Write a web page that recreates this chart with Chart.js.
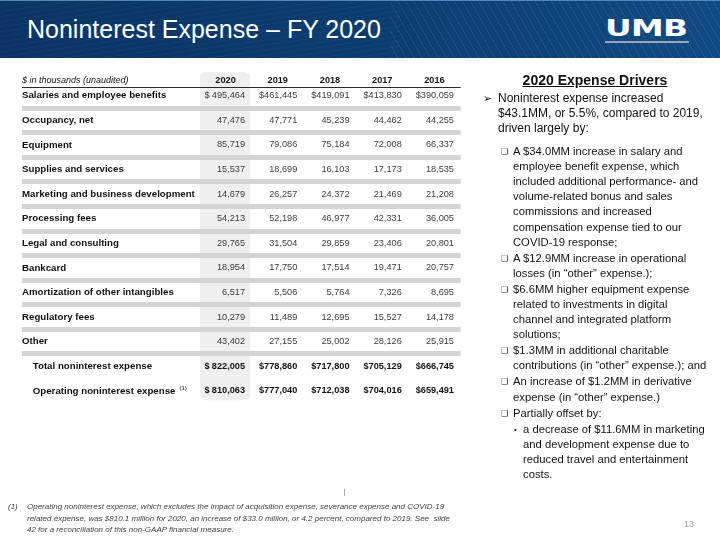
<!DOCTYPE html>
<html><head><meta charset="utf-8">
<script src="https://cdn.jsdelivr.net/npm/chart.js@4.4.1/dist/chart.umd.min.js"></script>
<style>
html,body{margin:0;padding:0;background:#fff;}
body{width:720px;height:540px;position:relative;overflow:hidden;font-family:"Liberation Sans",Arial,sans-serif;color:#111;}
#hdr{position:absolute;left:0;top:0;width:720px;height:58px;background:linear-gradient(90deg,#0a3463 0%,#0c3c6f 50%,#104a84 100%);border-top:1px solid #4f86bb;box-sizing:border-box;overflow:hidden}
#stripes{position:absolute;left:390px;top:0;width:330px;height:58px;background:repeating-linear-gradient(60deg,rgba(255,255,255,0.08) 0 1px,transparent 1px 7px);}
#waves{position:absolute;left:0;top:0;width:400px;height:58px;background:repeating-linear-gradient(172deg,rgba(120,200,220,0.05) 0 1px,transparent 1px 5px);}
#title{position:absolute;left:27px;top:17px;font-size:25px;line-height:25px;color:#fff;white-space:nowrap;}
#logo{position:absolute;left:605px;top:17px;font-family:"DejaVu Sans",sans-serif;font-weight:bold;font-size:23px;line-height:23px;color:#fff;transform:scaleX(1.43);transform-origin:0 0;letter-spacing:-0.5px;}
#logobar{position:absolute;left:605px;top:41px;width:84px;height:2px;background:#9aa5b1;}
#chartbox{position:absolute;left:0;top:0;width:720px;height:540px;}
#unit{position:absolute;left:22px;top:75px;font-size:9px;line-height:11px;font-style:italic;color:#111;white-space:nowrap;}
#rp{position:absolute;left:498px;top:91px;width:222px;font-size:12px;line-height:15.1px;color:#111;}
#rphead{position:absolute;left:480px;top:72px;width:230px;text-align:center;font-weight:bold;font-size:14px;line-height:16px;text-decoration:underline;color:#111;}
.p{position:relative;white-space:nowrap;}
.main .b{position:absolute;left:-15px;top:0;font-family:"DejaVu Sans",sans-serif;font-size:11px;}
.sub{margin-left:15px;font-size:11.25px;margin-top:1px;}
.sub .b{position:absolute;left:-12px;top:0;font-family:"DejaVu Sans",sans-serif;font-size:8px;}
.subsub{margin-left:25px;font-size:11.25px;margin-top:1px;}
.subsub .b{position:absolute;left:-9px;top:0;font-size:8px;}
#fn{position:absolute;left:27px;top:501px;font-size:8px;line-height:11.5px;font-style:italic;color:#3c3c3c;white-space:nowrap;}
#fnn{position:absolute;left:8px;top:501px;font-size:8px;line-height:11.5px;font-style:italic;color:#3c3c3c;}
#pg{position:absolute;left:684px;top:519px;font-size:9px;line-height:11px;color:#9a9a9a;}
#vl{position:absolute;left:344px;top:489px;width:1px;height:7px;background:#aaa;}
</style>
</head>
<body>
<div id="hdr"><div id="waves"></div><div id="stripes"></div></div>
<div id="title">Noninterest Expense – FY 2020</div>
<div id="logo">UMB</div>
<div id="logobar"></div>
<div id="chartbox"><canvas id="c" width="720" height="540"></canvas></div>
<div id="unit">$ in thousands (unaudited)</div>
<div id="rphead">2020 Expense Drivers</div>
<div id="rp">
  <div class="p main"><span class="b">➢</span>Noninterest expense increased<br>$43.1MM, or 5.5%, compared to 2019,<br>driven largely by:</div>
  <div class="p sub" style="margin-top:7.8px"><span class="b">❑</span>A $34.0MM increase in salary and<br>employee benefit expense, which<br>included additional performance- and<br>volume-related bonus and sales<br>commissions and increased<br>compensation expense tied to our<br>COVID-19 response;</div>
  <div class="p sub"><span class="b">❑</span>A $12.9MM increase in operational<br>losses (in “other” expense.);</div>
  <div class="p sub"><span class="b">❑</span>$6.6MM higher equipment expense<br>related to investments in digital<br>channel and integrated platform<br>solutions;</div>
  <div class="p sub"><span class="b">❑</span>$1.3MM in additional charitable<br>contributions (in “other” expense.); and</div>
  <div class="p sub"><span class="b">❑</span>An increase of $1.2MM in derivative<br>expense (in “other” expense.)</div>
  <div class="p sub"><span class="b">❑</span>Partially offset by:</div>
  <div class="p subsub"><span class="b">•</span>a decrease of $11.6MM in marketing<br>and development expense due to<br>reduced travel and entertainment<br>costs.</div>
</div>
<div id="fnn">(1)</div>
<div id="fn">Operating noninterest expense, which excludes the impact of acquisition expense, severance expense and COVID-19<br>related expense, was $810.1 million for 2020, an increase of $33.0 million, or 4.2 percent, compared to 2019. See &nbsp;slide<br>42 for a reconciliation of this non-GAAP financial measure.</div>
<div id="vl"></div>
<div id="pg">13</div>
<script>
const years = ['2020', '2019', '2018', '2017', '2016'];
const rowLabels = [
  'Salaries and employee benefits',
  'Occupancy, net',
  'Equipment',
  'Supplies and services',
  'Marketing and business development',
  'Processing fees',
  'Legal and consulting',
  'Bankcard',
  'Amortization of other intangibles',
  'Regulatory fees',
  'Other',
  'Total noninterest expense',
  'Operating noninterest expense'
];
const v2020 = [495464, 47476, 85719, 15537, 14679, 54213, 29765, 18954, 6517, 10279, 43402, 822005, 810063];
const v2019 = [461445, 47771, 79086, 18699, 26257, 52198, 31504, 17750, 5506, 11489, 27155, 778860, 777040];
const v2018 = [419091, 45239, 75184, 16103, 24372, 46977, 29859, 17514, 5764, 12695, 25002, 717800, 712038];
const v2017 = [413830, 44462, 72008, 17173, 21469, 42331, 23406, 19471, 7326, 15527, 28126, 705129, 704016];
const v2016 = [390059, 44255, 66337, 18535, 21208, 36005, 20801, 20757, 8695, 14178, 25915, 666745, 659491];
const seriesValues = [v2020, v2019, v2018, v2017, v2016];
const dollarRows = [0, 11, 12];
const totalRows = [11, 12];
const footnoteRows = [12];
const bandRows = [0, 1, 2, 3, 4, 5, 6, 7, 8, 9, 10];

const FONT = '"Liberation Sans", Arial, sans-serif';
const labelFont = 'bold 9.7px ' + FONT;
function rowText(i) { return (totalRows.includes(i) ? '    ' : '') + rowLabels[i]; }

const tablePlugin = {
  id: 'tableCells',
  beforeDraw(chart) {
    const {ctx, chartArea, scales: {x, y}} = chart;
    const bw = x.width / years.length;
    ctx.save();
    const cx = x.getPixelForValue(0);
    ctx.fillStyle = '#efefef';
    const top = chartArea.top - 11.5, bot = chartArea.bottom - 3;
    ctx.beginPath();
    ctx.roundRect(cx - bw / 2 + 0.5, top, bw - 2, bot - top, 6);
    ctx.fill();
    const left = y.left, right = chartArea.right;
    ctx.fillStyle = '#d4d4d4';
    bandRows.forEach(r => {
      const m = (y.getPixelForValue(r) + y.getPixelForValue(r + 1)) / 2;
      ctx.fillRect(left, Math.round(m - 2.5), right - left, 5);
    });
    ctx.fillStyle = '#2a2a2a';
    ctx.fillRect(left, Math.round(y.getPixelForValue(0) - 9), right - left, 1);
    ctx.restore();
  },
  afterDatasetsDraw(chart) {
    const {ctx, scales: {x, y}} = chart;
    const bw = x.width / years.length;
    ctx.save();
    ctx.textBaseline = 'middle';
    chart.data.datasets.forEach((ds, c) => {
      const meta = chart.getDatasetMeta(c);
      meta.data.forEach((pt, r) => {
        const bold = totalRows.includes(r);
        ctx.font = (bold ? 'bold ' : '') + '9.2px ' + FONT;
        ctx.fillStyle = bold ? '#111' : '#3a3a3a';
        let s = ds.data[r].v.toLocaleString('en-US');
        if (dollarRows.includes(r)) {
          if (c === 0) {
            ctx.textAlign = 'left';
            ctx.fillText('$', pt.x - bw / 2 + 5, pt.y);
          } else {
            s = '$' + s;
          }
        }
        ctx.textAlign = 'right';
        ctx.fillText(s, pt.x + 19.5, pt.y);
      });
    });
    ctx.font = labelFont;
    footnoteRows.forEach(r => {
      const w = ctx.measureText(rowText(r)).width;
      ctx.font = '6px ' + FONT;
      ctx.fillStyle = '#111';
      ctx.textAlign = 'left';
      ctx.fillText('(1)', y.left + w + 4, y.getPixelForValue(r) - 3);
    });
    ctx.restore();
  }
};

const datasets = years.map((yr, c) => ({
  label: yr,
  data: seriesValues[c].map((v, r) => ({x: yr, y: rowLabels[r], v: v})),
  pointRadius: 0,
  pointHoverRadius: 0,
  showLine: false
}));

new Chart(document.getElementById('c'), {
  type: 'scatter',
  data: {datasets},
  plugins: [tablePlugin],
  options: {
    responsive: false,
    animation: false,
    events: [],
    layout: {padding: {left: 22, right: 259.4, top: 60, bottom: 136.8}},
    plugins: {legend: {display: false}, tooltip: {enabled: false}},
    scales: {
      x: {
        type: 'category', labels: years, position: 'top', offset: true,
        grid: {display: false, drawTicks: false}, border: {display: false},
        ticks: {font: {family: FONT, weight: 'bold', size: 9.2}, color: '#111', padding: -3, maxRotation: 0, autoSkip: false},
        afterFit(s) { s.height = 23.4; }
      },
      y: {
        type: 'category', labels: rowLabels, offset: true,
        grid: {display: false, drawTicks: false}, border: {display: false},
        ticks: {
          font: {family: FONT, weight: 'bold', size: 9.7}, color: '#111', crossAlign: 'far', padding: 0, autoSkip: false,
          callback: function(value, index) { return rowText(index); }
        },
        afterFit(s) { s.width = 177.4; }
      }
    }
  }
});
</script>
</body></html>
